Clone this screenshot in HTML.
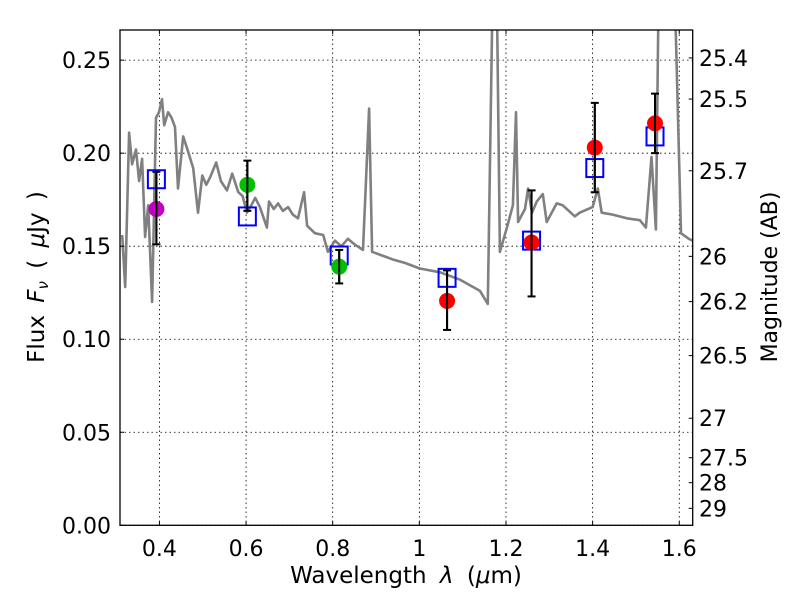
<!DOCTYPE html>
<html><head><meta charset="utf-8"><style>
body{margin:0;background:#fff}
svg text{font-family:"DejaVu Sans","Liberation Sans",sans-serif;fill:#000}
</style></head><body>
<svg id="chart" width="800" height="600" viewBox="0 0 800 600" xmlns="http://www.w3.org/2000/svg">
<defs><clipPath id="pc"><rect x="120" y="30" width="572.7" height="495.3"/></clipPath></defs>
<g id="grid"></g>
<g id="spec" clip-path="url(#pc)"></g>
<g id="marks" clip-path="url(#pc)"></g>
<rect x="120" y="30" width="572.7" height="495.3" fill="none" stroke="#000" stroke-width="1.3"/>
<g id="axes"></g>
<text x="406" y="583" font-size="23" text-anchor="middle" word-spacing="6">Wavelength  <tspan font-style="italic">λ</tspan> (<tspan font-style="italic">μ</tspan>m)</text>
<text transform="translate(44,277) rotate(-90)" font-size="23" text-anchor="middle" word-spacing="5">Flux  <tspan font-style="italic">F</tspan><tspan font-style="italic" font-size="15" dy="4">ν</tspan><tspan dy="-4">  ( </tspan><tspan font-style="italic">μ</tspan>Jy )</text>
<text transform="translate(777,277) rotate(-90)" font-size="22" text-anchor="middle">Magnitude (AB)</text>
</svg>
<script>
const specWave=[0.314,0.321,0.330,0.337,0.346,0.353,0.360,0.367,0.374,0.383,0.392,0.399,0.406,0.411,0.420,0.428,0.436,0.443,0.455,0.466,0.478,0.489,0.499,0.508,0.517,0.531,0.542,0.556,0.568,0.582,0.592,0.602,0.612,0.621,0.632,0.648,0.653,0.664,0.674,0.685,0.697,0.708,0.720,0.734,0.741,0.759,0.778,0.789,0.805,0.820,0.835,0.850,0.870,0.884,0.891,0.914,0.937,0.967,1.001,1.048,1.094,1.140,1.158,1.170,1.178,1.186,1.202,1.216,1.223,1.228,1.244,1.251,1.260,1.271,1.285,1.294,1.317,1.331,1.359,1.370,1.400,1.412,1.421,1.446,1.479,1.509,1.523,1.536,1.546,1.553,1.588,1.604,1.622,1.640];
const specFlux=[0.156,0.128,0.211,0.194,0.202,0.185,0.197,0.155,0.172,0.120,0.219,0.222,0.229,0.215,0.222,0.219,0.214,0.181,0.209,0.201,0.192,0.168,0.188,0.183,0.187,0.195,0.185,0.180,0.189,0.179,0.177,0.168,0.172,0.176,0.171,0.160,0.174,0.170,0.173,0.169,0.171,0.167,0.165,0.179,0.161,0.157,0.156,0.147,0.153,0.150,0.154,0.151,0.148,0.224,0.147,0.145,0.143,0.141,0.138,0.136,0.132,0.126,0.119,0.300,0.300,0.147,0.160,0.172,0.222,0.163,0.170,0.181,0.168,0.174,0.178,0.163,0.173,0.172,0.166,0.168,0.171,0.181,0.168,0.167,0.165,0.164,0.160,0.198,0.159,0.300,0.300,0.157,0.154,0.152];
const obsWave=[0.393,0.603,0.815,1.064,1.259,1.405,1.544];
const obsFlux=[0.170,0.183,0.139,0.1206,0.152,0.203,0.216];
const obsErrHi=[0.190,0.196,0.148,0.137,0.180,0.227,0.232];
const obsErrLo=[0.151,0.169,0.130,0.105,0.123,0.179,0.200];
const obsColor=['#bf00bf','#00c000','#00c000','#ff0000','#ff0000','#ff0000','#ff0000'];
const modelFlux=[0.186,0.166,0.145,0.133,0.153,0.192,0.209];
const xTicks=[0.4,0.6,0.8,1.0,1.2,1.4,1.6];
const xTickLabels=['0.4','0.6','0.8','1','1.2','1.4','1.6'];
const yTicks=[0,0.05,0.10,0.15,0.20,0.25];
const yTickLabels=['0.00','0.05','0.10','0.15','0.20','0.25'];
const magTicks=[25.4,25.5,25.7,26,26.2,26.5,27,27.5,28,29];
const magTickLabels=['25.4','25.5','25.7','26','26.2','26.5','27','27.5','28','29'];

const X0=120,X1=692.7,Y0=525.3,Y1=30,xmin=0.309,xmax=1.631,ymin=0,ymax=0.2662;
const sx=v=>X0+(v-xmin)/(xmax-xmin)*(X1-X0);
const sy=v=>Y0-(v-ymin)/(ymax-ymin)*(Y0-Y1);
const NS='http://www.w3.org/2000/svg';
function mk(tag,attrs,parent){const e=document.createElementNS(NS,tag);for(const k in attrs)e.setAttribute(k,attrs[k]);parent.appendChild(e);return e;}
const grid=document.getElementById('grid'),axes=document.getElementById('axes');
const spec=document.getElementById('spec'),marks=document.getElementById('marks');

xTicks.forEach((t,i)=>{
  const x=sx(t);
  const g=mk('line',{x1:x,x2:x,y1:Y1,y2:Y0,stroke:'#000','stroke-width':0.8,'stroke-dasharray':'1.5,3'},grid);
  
  
  mk('line',{x1:x,x2:x,y1:Y0,y2:Y0-4,stroke:'#000'},axes);
  mk('line',{x1:x,x2:x,y1:Y1,y2:Y1+4,stroke:'#000'},axes);
  const tx=mk('text',{x:x,y:556,'font-size':22,'text-anchor':'middle'},axes);
  tx.textContent=xTickLabels[i];
  
  
});
yTicks.forEach((t,i)=>{
  const y=sy(t);
  const g=mk('line',{x1:X0,x2:X1,y1:y,y2:y,stroke:'#000','stroke-width':0.8,'stroke-dasharray':'1.5,3'},grid);
  
  
  mk('line',{x1:X0,x2:X0+4,y1:y,y2:y,stroke:'#000'},axes);
  const tx=mk('text',{x:111,y:y+8,'font-size':22,'text-anchor':'end'},axes);
  tx.textContent=yTickLabels[i];
  
  
});
magTicks.forEach((m,i)=>{
  const y=sy(Math.pow(10,(23.9-m)/2.5));
  mk('line',{x1:X1,x2:X1-4,y1:y,y2:y,stroke:'#000'},axes);
  const tx=mk('text',{x:699,y:y+8,'font-size':22},axes);
  tx.textContent=magTickLabels[i];
  
  
});
const pts=specWave.map((w,i)=>sx(w).toFixed(1)+','+sy(specFlux[i]).toFixed(1)).join(' ');
const pl=mk('polyline',{points:pts,fill:'none',stroke:'#808080','stroke-width':2.6,'stroke-linejoin':'round'},spec);



obsWave.forEach((w,i)=>{
  const x=sx(w);
  const eb=mk('g',{},marks);
  
  
  const yh=sy(obsErrHi[i]),yl=sy(obsErrLo[i]);
  mk('line',{x1:x,x2:x,y1:yh,y2:yl,stroke:'#000','stroke-width':2},eb);
  mk('line',{x1:x-4,x2:x+4,y1:yh,y2:yh,stroke:'#000','stroke-width':2},eb);
  mk('line',{x1:x-4,x2:x+4,y1:yl,y2:yl,stroke:'#000','stroke-width':2},eb);
});
obsWave.forEach((w,i)=>{
  const x=sx(w),y=sy(modelFlux[i]);
  const r=mk('rect',{x:x-8.5,y:y-9,width:17,height:18,fill:'none',stroke:'#0000ff','stroke-width':2},marks);
  
  
});
obsWave.forEach((w,i)=>{
  const c=mk('circle',{cx:sx(w),cy:sy(obsFlux[i]),r:8,fill:obsColor[i]},marks);
  
  
});
obsWave.forEach((w,i)=>{
  const x=sx(w);
  const l=mk('line',{x1:x,x2:x,y1:sy(obsErrHi[i]),y2:sy(obsErrLo[i]),stroke:'#000','stroke-width':2},marks);
  
  
});
</script>
</body></html>
